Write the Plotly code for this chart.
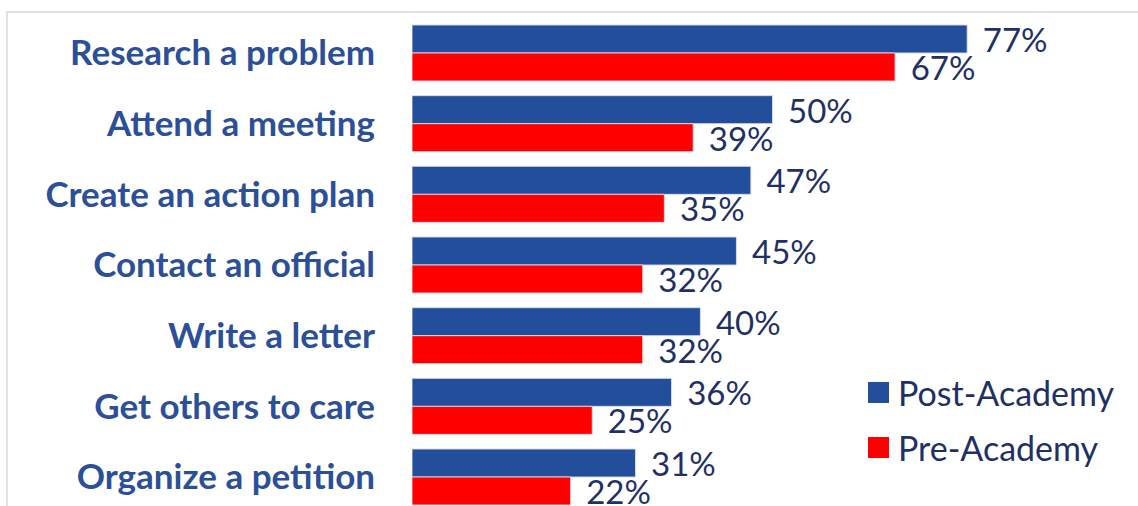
import plotly.graph_objects as go

categories = ["Research a problem", "Attend a meeting", "Create an action plan",
              "Contact an official", "Write a letter", "Get others to care",
              "Organize a petition"]
post_academy = [77, 50, 47, 45, 40, 36, 31]
pre_academy = [67, 39, 35, 32, 32, 25, 22]
series_names = ["Post-Academy", "Pre-Academy"]
series_colors = ["#234E9C", "#FF0000"]

W, H = 1138, 506
FONT = "Lato"
LABEL_COLOR = "#1F3066"
CAT_COLOR = "#2B4F98"

fig = go.Figure()
for name, vals, col in zip(series_names, [post_academy, pre_academy], series_colors):
    fig.add_trace(go.Bar(
        y=categories, x=vals, orientation="h", name=name,
        marker=dict(color=col, line=dict(color="rgba(220,222,235,0.9)", width=1)),
        text=[f"\u00a0\u2009{v}%" for v in vals],
        textposition="outside", constraintext="none", cliponaxis=False,
        textfont=dict(family=FONT, size=33, color=LABEL_COLOR),
        showlegend=False, hoverinfo="skip",
    ))

px_per_unit = 70.67
first_center = 53
y_top = 0 - first_center / px_per_unit
y_bot = (H - first_center) / px_per_unit

shapes = [dict(type="rect", xref="paper", yref="paper",
               x0=7 / W, x1=1.05, y0=-0.05, y1=1 - 12 / H,
               line=dict(color="#D9D9D9", width=1.5), fillcolor="rgba(0,0,0,0)", layer="below")]
annotations = []
legend_rows = [(382, 403), (437, 458)]
for (t, b), name, col in zip(legend_rows, series_names, series_colors):
    shapes.append(dict(type="rect", xref="paper", yref="paper",
                       x0=868 / W, x1=889 / W, y0=1 - b / H, y1=1 - t / H,
                       line=dict(width=0), fillcolor=col))
    annotations.append(dict(xref="paper", yref="paper", x=896 / W, y=1 - (t + b) / 2 / H,
                            text=name, showarrow=False, xanchor="left", yanchor="middle",
                            font=dict(family=FONT, size=34, color=LABEL_COLOR)))

fig.update_layout(
    width=W, height=H, margin=dict(l=0, r=0, t=0, b=0),
    paper_bgcolor="white", plot_bgcolor="white",
    barmode="group", bargap=0.2075, bargroupgap=0,
    xaxis=dict(domain=[412 / W, 1], range=[0, (W - 412) / 7.21],
               showgrid=False, zeroline=False, showticklabels=False, showline=False),
    yaxis=dict(type="category", categoryorder="array", categoryarray=categories,
               range=[y_bot, y_top], showgrid=False, zeroline=False, showline=False,
               ticks="", ticklabelstandoff=36,
               tickfont=dict(family=FONT, size=35, color=CAT_COLOR, weight="bold")),
    shapes=shapes, annotations=annotations,
)

fig.write_html("out.html", config={"displayModeBar": False},
               post_script="document.body.style.margin='0';")
